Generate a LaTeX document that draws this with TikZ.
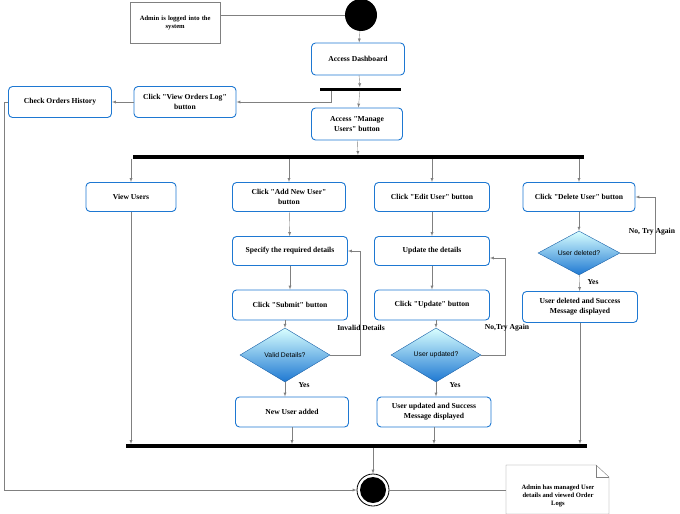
\documentclass[tikz,border=0pt]{standalone}
\usepackage{fontspec}
\setmainfont{Liberation Serif}
\newfontfamily\diafont{Liberation Sans}
\usetikzlibrary{shapes.geometric}
\definecolor{boxblue}{RGB}{30,120,210}
\newcommand\dq{\textquotedbl}
\tikzset{
  act/.style={draw=boxblue, line width=0.9pt, rounded corners=4pt, fill=white, align=center, font=\bfseries\fontsize{7.6}{10}\selectfont},
  dec/.style={diamond, aspect=1.7, draw=boxblue!80!black, top color=cyan!15, bottom color=boxblue, font=\diafont\fontsize{6.8}{8}\selectfont, inner sep=1pt},
  bar/.style={fill=black, inner sep=0pt},
  flow/.style={draw=gray, ->, >=latex},
  lbl/.style={font=\bfseries\fontsize{7.6}{9}\selectfont}
}
\begin{document}
\begin{tikzpicture}[x=1pt,y=-1pt]
\useasboundingbox (0,0) rectangle (680,514);
\node[draw=gray, minimum width=90pt, minimum height=41pt, text width=86pt, align=center, font=\bfseries\fontsize{6.6}{8}\selectfont, anchor=north west, inner sep=2pt] (note1) at (130,2) {Admin is logged into the\\system\\[12pt]};
\node[circle, fill=black, minimum size=32pt, inner sep=0pt] (start) at (361,15) {};
\node[act, minimum width=93pt, minimum height=32pt] (dash) at (358,59) {Access Dashboard};
\node[bar, minimum width=81pt, minimum height=3pt] (bar1) at (360,89) {};
\node[act, minimum width=102pt, minimum height=31pt] (orders) at (185,102) {Click \dq View Orders Log\dq\\button};
\node[act, minimum width=103pt, minimum height=31pt] (history) at (60,102) {Check Orders History};
\node[act, minimum width=91pt, minimum height=32pt] (manage) at (357,124) {Access \dq Manage\\Users\dq\ button};
\node[bar, minimum width=451pt, minimum height=3.5pt] (bar2) at (358,157) {};
\node[act, minimum width=90pt, minimum height=29pt] (view) at (131,197) {View Users};
\node[act, minimum width=113pt, minimum height=29pt] (add) at (289,197) {Click \dq Add New User\dq\\button};
\node[act, minimum width=115pt, minimum height=29pt] (edit) at (432,197) {Click \dq Edit User\dq\ button};
\node[act, minimum width=112pt, minimum height=29pt] (del) at (579,197) {Click \dq Delete User\dq\ button};
\node[act, minimum width=115pt, minimum height=29pt] (spec) at (290,251) {Specify the required details};
\node[act, minimum width=115pt, minimum height=29pt] (upd) at (432,251) {Update the details};
\node[dec, minimum width=82pt, minimum height=44pt] (deldec) at (579,253) {User deleted?};
\node[act, minimum width=115pt, minimum height=30pt] (submit) at (290,305) {Click \dq Submit\dq\ button};
\node[act, minimum width=115pt, minimum height=30pt] (updbtn) at (432,305) {Click \dq Update\dq\ button};
\node[act, minimum width=115pt, minimum height=31pt] (deldone) at (580,307) {User deleted and Success\\Message displayed};
\node[dec, minimum width=90pt, minimum height=54pt] (valid) at (285,355) {Valid Details?};
\node[dec, minimum width=90pt, minimum height=54pt] (upddec) at (436,355) {User updated?};
\node[act, minimum width=113pt, minimum height=30pt] (added) at (292,412) {New User added};
\node[act, minimum width=114pt, minimum height=30pt] (upddone) at (434,412) {User updated and Success\\Message displayed};
\node[bar, minimum width=461pt, minimum height=3.5pt] (bar3) at (356,446) {};
\node[circle, draw=black, line width=0.8pt, minimum size=32pt, inner sep=0pt] (stop) at (373,490) {};
\node[circle, fill=black, minimum size=26pt, inner sep=0pt] at (stop) {};
\coordinate (n2) at (506,465);
\draw[gray] (n2) -- (596,465) -- (609,477) -- (609,514) -- (506,514) -- cycle;
\draw[gray] (596,465) -- (596,477) -- (609,477);
\node[align=center, font=\bfseries\fontsize{6.6}{8}\selectfont] (note2) at (558,496) {Admin has managed User\\details and viewed Order\\Logs};
% notes
\draw[gray] (note1.east |- start) -- (start);
\draw[gray] (506,490) -- (stop);
% main flow
\draw[flow] (start) -- (dash);
\draw[flow] (dash) -- (bar1);
\draw[flow] (bar1) -- (manage);
\draw[flow] (bar1.south west) ++(12,0) |- (orders);
\draw[flow] (orders) -- (history);
\draw[flow] (manage) -- (bar2);
\foreach \n in {view,add,edit,del}
  \draw[flow] (bar2.south -| \n) -- (\n);
\draw[flow] (add) -- (spec);
\draw[flow] (spec) -- (submit);
\draw[flow] (submit.south -| valid) -- (valid);
\draw[flow] (valid.south) -- (added.north -| valid);
\draw[flow] (edit) -- (upd);
\draw[flow] (upd) -- (updbtn);
\draw[flow] (updbtn.south -| upddec) -- (upddec);
\draw[flow] (upddec.south) -- (upddone.north -| upddec);
\draw[flow] (del) -- (deldec);
\draw[flow] (deldec) -- (deldone);
% loops
\draw[flow] (valid.east) -| (360,251) -- (spec.east);
\draw[flow] (upddec.east) -| (505,258) -- (upd.east |- 0,258);
\draw[flow] (deldec.east) -| (655,197) -- (del.east);
\node[lbl] at (361,328) {Invalid Details};
\node[lbl] at (507,328) {No,Try Again};
\node[lbl] at (652,232) {No, Try Again};
\node[lbl] at (304,385) {Yes};
\node[lbl] at (455,385) {Yes};
\node[lbl] at (593,282) {Yes};
% join
\draw[flow] (view) -- (bar3.north -| view);
\draw[flow] (added) -- (bar3.north -| added);
\draw[flow] (upddone) -- (bar3.north -| upddone);
\draw[flow] (deldone) -- (bar3.north -| deldone);
\draw[flow] (bar3.south -| stop) -- (stop);
\draw[flow] (history.west) -- (4,102) |- (stop);
\end{tikzpicture}
\end{document}
